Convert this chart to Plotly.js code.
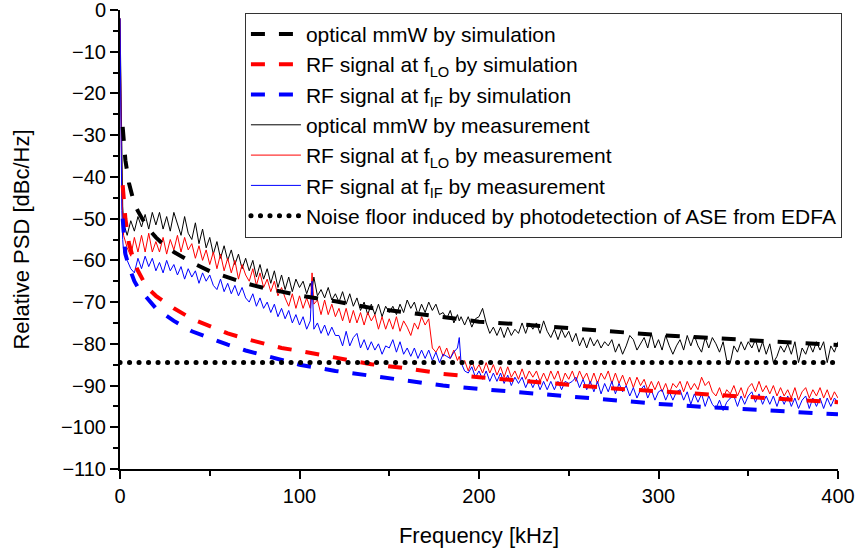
<!DOCTYPE html>
<html>
<head>
<meta charset="utf-8">
<script src="https://cdn.plot.ly/plotly-3.0.1.min.js"></script>
<style>
html,body{margin:0;padding:0;background:#fff;}
#chart{width:859px;height:554px;}
.tracenoise .js-line{stroke-linecap:round !important;}
</style>
</head>
<body>
<div id="chart"></div>
<script>
// ---- data (kHz, dBc/Hz) ----
const freqSim = [1.5, 2, 3, 5, 8, 10, 15, 20, 25, 30, 40, 50, 60, 70, 80, 90, 100, 120, 140, 160, 180, 200, 225, 250, 275, 300, 325, 350, 375, 400];
const simOptical = [-28, -31, -36, -41.5, -46.5, -48.2, -52, -54.5, -56.5, -58, -60.5, -62.6, -64, -65.5, -66.6, -67.5, -68.4, -69.8, -71.4, -72.5, -73.6, -74.7, -75.4, -76.3, -77.2, -77.9, -78.5, -79.1, -79.6, -80.3];
const simLO = [-42, -45, -50, -56, -60.5, -62.5, -66.5, -68.5, -70, -71.5, -74, -75.7, -77.5, -78.8, -80, -81, -81.7, -83.3, -84.9, -85.9, -87.2, -88, -89, -89.8, -90.7, -91.4, -92.2, -92.8, -93.4, -94];
const simIF = [-50, -54, -58.5, -61.5, -65, -66.5, -69, -71.5, -73, -74.5, -77, -78.7, -80.2, -81.6, -82.8, -84, -85, -86.5, -87.6, -88.8, -90, -90.8, -91.7, -92.7, -93.6, -94.4, -95.1, -95.7, -96.3, -96.9];

const freqMeas = [0, 0.5, 1, 1.5, 2,
 4, 6, 8, 10,
 12, 14, 16, 18, 20,
 22, 24, 26, 28, 30,
 32, 34, 36, 38, 40,
 42, 44, 46, 48, 50,
 52, 54, 56, 58, 60,
 62, 64, 66, 68, 70,
 72, 74, 76, 78, 80,
 82, 84, 86, 88, 90,
 92, 94, 96, 98, 100,
 102, 104, 106, 107, 108, 110,
 112, 114, 116, 118, 120,
 122, 124, 126, 128, 130,
 132, 134, 136, 138, 140,
 142, 144, 146, 148, 150,
 152, 154, 156, 158, 160,
 162, 164, 166, 168, 170,
 172, 174, 176, 178, 180,
 182, 184, 186, 188, 189, 190,
 192, 194, 196, 198, 200,
 202, 204, 206, 208, 210,
 212, 214, 216, 218, 220,
 222, 224, 226, 228, 230,
 232, 234, 236, 238, 240,
 242, 244, 246, 248, 250,
 252, 254, 256, 258, 260,
 262, 264, 266, 268, 270,
 272, 274, 276, 278, 280,
 282, 284, 286, 288, 290,
 292, 294, 296, 298, 300,
 302, 304, 306, 308, 310,
 312, 314, 316, 318, 320,
 322, 324, 326, 328, 330,
 332, 334, 336, 338, 340,
 342, 344, 346, 348, 350,
 352, 354, 356, 358, 360,
 362, 364, 366, 368, 370,
 372, 374, 376, 378, 380,
 382, 384, 386, 388, 390,
 392, 394, 396, 398, 400];

const measOptical = [-2, -20, -38, -47, -51,
 -54, -50.5, -53, -49.5,
 -52, -49, -52.5, -48.5, -51.5,
 -48.5, -52.5, -49.5, -53, -48.5,
 -51.5, -54, -49.5, -53.5, -55,
 -51, -56, -52.5, -57, -54.5,
 -58.5, -55.5, -59.5, -56.5, -60,
 -57.5, -61, -58.5, -62, -59.5,
 -62.5, -60, -64, -61, -64.5,
 -62, -65.5, -62.5, -66.5, -63.5,
 -67, -64, -67.5, -64.5, -66.5,
 -65, -68, -65.5, -67, -64, -68.5,
 -67, -69, -66.5, -69.5, -68,
 -70, -67.5, -70.5, -68, -71,
 -69, -72, -70, -73, -70.5,
 -73, -70.5, -73.5, -71, -72.5,
 -71, -73, -70.5, -72.5, -69.5,
 -71.5, -70, -73, -70.5, -72.5,
 -70, -72, -70.5, -73, -72.5,
 -74, -72, -75, -73, -74.5, -73.5,
 -75.5, -73.5, -76, -74, -73.5,
 -71.5, -75, -77.5, -76, -78,
 -76, -78.5, -76, -78, -76.5,
 -77.5, -75, -77.5, -75, -76.5,
 -75, -77.5, -74.5, -77, -78.5,
 -76.5, -79, -76.5, -78.5, -77,
 -79.5, -77.5, -80.5, -78.5, -81,
 -78.5, -80.5, -79, -81, -79.5,
 -80.5, -79, -82, -80, -82.5,
 -80.5, -78, -79, -81.5, -80,
 -78.5, -81, -77.5, -81, -79,
 -81.5, -78, -80.5, -82.5, -80.5,
 -79, -81.5, -78, -80.5, -78,
 -80.5, -82, -78.5, -81, -78.5,
 -80, -82, -79.5, -84, -84.5,
 -80.5, -82, -79.5, -81.5, -79.5,
 -81, -79, -82, -79.5, -82.5,
 -80, -84.5, -83, -80.5, -82,
 -80, -82.5, -79.5, -84.5, -81,
 -82.5, -80, -82, -79.5, -81.5,
 -79.5, -84.5, -80.5, -82, -79.5];

const measLO = [-2, -25, -42, -50, -54,
 -57, -59, -54.5, -58,
 -54, -58, -53.5, -58, -55.5,
 -58, -54.5, -58.5, -55, -57.5,
 -54, -58, -54.5, -57.5, -56,
 -59.5, -56.5, -60, -57.5, -61,
 -58, -62, -58.5, -62.5, -59.5,
 -63, -60, -64.5, -61, -63.5,
 -65, -62, -66, -63, -66.5,
 -64.5, -67.5, -65, -68.5, -66.5,
 -69, -71, -68, -71.5, -68.5,
 -71.5, -69, -71.5, -63, -70.5, -69.5,
 -73, -69.5, -73, -70.5, -73.5,
 -71.5, -74.5, -71.5, -75, -72,
 -75, -72.5, -75.5, -72.5, -74.5,
 -73, -76.5, -73.5, -76.5, -74,
 -76.5, -73.5, -77, -74.5, -76,
 -78, -75, -76.5, -73.5, -75.5,
 -74, -81, -82, -80.5, -83,
 -81, -83.5, -81.5, -84, -83, -85,
 -84, -86.5, -84, -86.5, -85,
 -87, -84.5, -87, -85, -87.5,
 -85.5, -88, -85.5, -88, -86.5,
 -88.5, -86, -88.5, -86.5, -88,
 -86.5, -89, -87, -89, -86.5,
 -88.5, -86.5, -89.5, -87, -88.5,
 -86.5, -89, -86.5, -88.5, -87,
 -89.5, -87, -89.5, -87, -88.5,
 -86.5, -89.5, -87, -89.5, -87.5,
 -90, -88, -90.5, -88, -90,
 -88.5, -91, -89, -91, -89,
 -91.5, -89.5, -92, -89.5, -90.5,
 -89, -91.5, -89, -91, -89.5,
 -91, -88, -90, -89, -91.5,
 -92.5, -90.5, -93, -91, -92,
 -90, -92.5, -90.5, -93, -90.5,
 -89.5, -91.5, -89, -91.5, -90,
 -92, -90, -92.5, -90.5, -92.5,
 -91, -93, -90.5, -93.5, -91.5,
 -90.5, -93, -91, -92.5, -90.5,
 -93, -91, -93.5, -91.5, -93];

const measIF = [-2, -30, -48, -55, -58,
 -60, -62, -63, -59.5,
 -62, -59, -61.5, -59.5, -62.5,
 -60.5, -63, -60, -62.5, -61,
 -63.5, -61.5, -64.5, -62, -64,
 -62.5, -65.5, -63, -65, -63.5,
 -66, -67, -64.5, -67.5, -65.5,
 -68, -66, -68.5, -66.5, -69,
 -70, -68, -71, -69, -71.5,
 -70, -72.5, -70.5, -73.5, -71.5,
 -74, -72, -75, -73, -75.5,
 -73.5, -76.5, -74.5, -65, -76.5, -75,
 -77.5, -75.5, -78, -76, -78,
 -78, -80.5, -77, -80.5, -78.5,
 -77.5, -81, -79, -81.5, -79.5,
 -81.5, -80, -82.5, -80.5, -81,
 -79, -82, -79.5, -82.5, -81,
 -83, -81, -83.5, -81.5, -83.5,
 -81.5, -84, -82, -84.5, -82.5,
 -83, -83.5, -82, -81, -78.5, -84.5,
 -86.5, -87, -85.5, -88, -86.5,
 -88.5, -86.5, -89, -87, -89,
 -87, -89.5, -87.5, -90, -88,
 -89.5, -88, -90.5, -88.5, -90.5,
 -88.5, -91, -89, -91, -89,
 -91, -89, -91, -89, -89.5,
 -89, -88, -90.5, -88.5, -91,
 -89, -91.5, -89, -92, -89.5,
 -91.5, -89, -92, -89.5, -91.5,
 -90, -92.5, -90.5, -93, -91,
 -90, -93, -91, -93.5, -91.5,
 -91, -93.5, -91.5, -93.5, -91.5,
 -91, -93.5, -91.5, -94.5, -92,
 -94, -92, -95, -92.5, -94.5,
 -95.5, -93.5, -96, -94, -93,
 -92.5, -95, -92.5, -94.5, -92.5,
 -91.5, -94, -92, -94.5, -92.5,
 -94.5, -92.5, -95, -92.5, -94.5,
 -92.5, -95, -93, -95.5, -93.5,
 -92.5, -95.5, -93, -95, -93,
 -95.5, -93, -95, -93, -94];

const freqNoise = [0, 400];
const noiseFloor = [-84.5, -84.5];

const legendNames = [
  'optical mmW by simulation',
  'RF signal at f<sub>LO</sub> by simulation',
  'RF signal at f<sub>IF</sub> by simulation',
  'optical mmW by measurement',
  'RF signal at f<sub>LO</sub> by measurement',
  'RF signal at f<sub>IF</sub> by measurement',
  'Noise floor induced by photodetection of ASE from EDFA'
];

const FONT = 'Arial, "Liberation Sans", sans-serif';
const simDash = '14px,14px';

const traces = [
  {x: freqMeas, y: measOptical, name: legendNames[3], legendrank: 4, mode: 'lines', line: {color: '#000000', width: 1}},
  {x: freqMeas, y: measLO, name: legendNames[4], legendrank: 5, mode: 'lines', line: {color: '#ff0000', width: 1}},
  {x: freqMeas, y: measIF, name: legendNames[5], legendrank: 6, mode: 'lines', line: {color: '#0000ff', width: 1}},
  {x: freqSim, y: simOptical, name: legendNames[0], legendrank: 1, mode: 'lines', line: {color: '#000000', width: 4, dash: simDash}},
  {x: freqSim, y: simLO, name: legendNames[1], legendrank: 2, mode: 'lines', line: {color: '#ff0000', width: 4, dash: simDash}},
  {x: freqSim, y: simIF, name: legendNames[2], legendrank: 3, mode: 'lines', line: {color: '#0000ff', width: 4, dash: simDash}},
  {x: freqNoise, y: noiseFloor, name: legendNames[6], legendrank: 7, uid: 'noise', mode: 'lines', line: {color: '#000000', width: 5, dash: '0.1px,9.4px'}}
];

const layout = {
  width: 859, height: 554,
  margin: {l: 120, r: 21, t: 10, b: 85, pad: 0},
  paper_bgcolor: '#ffffff', plot_bgcolor: '#ffffff',
  font: {family: FONT, size: 20, color: '#000'},
  showlegend: true,
  legend: {
    x: 0.174, y: 0.994, xanchor: 'left', yanchor: 'top',
    bgcolor: '#ffffff', bordercolor: '#333333', borderwidth: 1,
    font: {family: FONT, size: 21, color: '#000'},
    itemwidth: 50, tracegroupgap: 0
  },
  xaxis: {
    range: [0, 400], dtick: 100, tick0: 0,
    showgrid: false, zeroline: false,
    showline: true, linecolor: '#000', linewidth: 2,
    ticks: 'outside', ticklen: 8, tickwidth: 2, tickcolor: '#000',
    minor: {dtick: 50, ticks: 'outside', ticklen: 5, tickwidth: 2, tickcolor: '#000', showgrid: false},
    tickfont: {family: FONT, size: 20, color: '#000'},
    ticklabeloverflow: 'allow',
    title: {text: 'Frequency [kHz]', font: {family: FONT, size: 22, color: '#000'}, standoff: 22}
  },
  yaxis: {
    range: [-110, 0], dtick: 10, tick0: 0,
    showgrid: false, zeroline: false,
    showline: true, linecolor: '#000', linewidth: 2,
    ticks: 'outside', ticklen: 8, tickwidth: 2, tickcolor: '#000',
    minor: {dtick: 5, ticks: 'outside', ticklen: 5, tickwidth: 2, tickcolor: '#000', showgrid: false},
    tickfont: {family: FONT, size: 20, color: '#000'},
    ticklabeloverflow: 'allow',
    title: {text: 'Relative PSD [dBc/Hz]', font: {family: FONT, size: 22, color: '#000'}, standoff: 25}
  }
};

Plotly.newPlot('chart', traces, layout, {staticPlot: true, displayModeBar: false}).then(function (gd) {
  gd.querySelectorAll('.legend .traces').forEach(function (t) {
    if (t.textContent.indexOf('Noise') >= 0) {
      t.querySelectorAll('.js-line').forEach(function (p) { p.style.strokeLinecap = 'round'; });
    }
  });
});
</script>
</body>
</html>
